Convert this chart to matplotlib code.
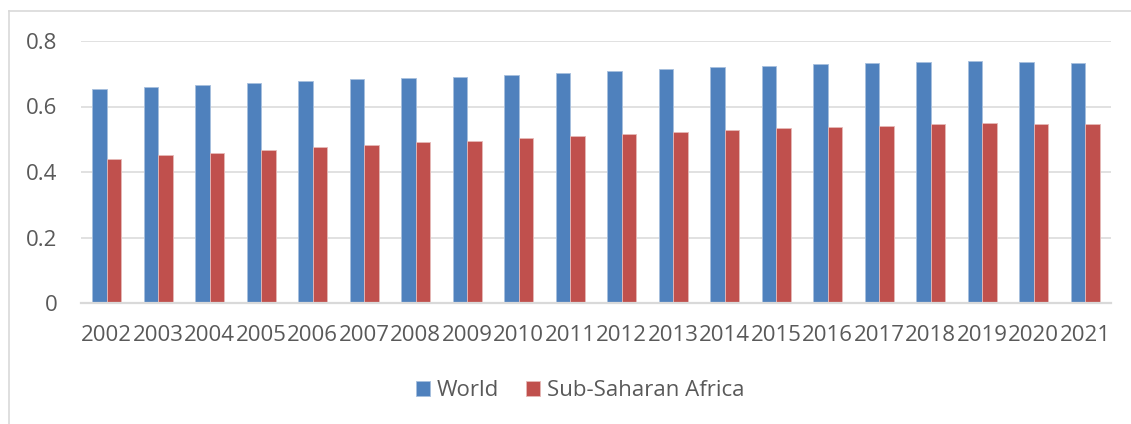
import numpy as np
import matplotlib
matplotlib.use("Agg")
import matplotlib.pyplot as plt
from matplotlib.lines import Line2D

years = [str(y) for y in range(2002, 2022)]
world = [0.654, 0.659, 0.665, 0.671, 0.678, 0.683, 0.687, 0.691, 0.696, 0.703,
         0.708, 0.713, 0.720, 0.724, 0.729, 0.733, 0.735, 0.738, 0.735, 0.732]
ssa = [0.441, 0.451, 0.459, 0.467, 0.476, 0.483, 0.491, 0.496, 0.503, 0.509,
       0.515, 0.522, 0.528, 0.534, 0.538, 0.541, 0.546, 0.551, 0.548, 0.546]
series_names = ["World", "Sub-Saharan Africa"]
yticks = [0, 0.2, 0.4, 0.6, 0.8]
ytick_labels = ["0", "0.2", "0.4", "0.6", "0.8"]

BLUE = "#4F81BD"
RED = "#C0504D"
TEXT = "#595959"
GRID = "#D9D9D9"

plt.rcParams["font.family"] = ["Open Sans", "DejaVu Sans"]
plt.rcParams["font.size"] = 16.0

fig = plt.figure(figsize=(11.31, 4.24), dpi=100)
ax = fig.add_axes([81 / 1131, 1 - 303 / 424, 1030 / 1131, 262 / 424])

x = np.arange(len(years))
w = 0.285
ax.bar(x - w / 2, world, w, color=BLUE, edgecolor="#A7BFDE", linewidth=0.6,
       label=series_names[0], zorder=3)
ax.bar(x + w / 2, ssa, w, color=RED, edgecolor="#E6B9B8", linewidth=0.6,
       label=series_names[1], zorder=3)

ax.set_xlim(-0.5, len(years) - 0.5)
ax.set_ylim(0, 0.8)
ax.set_xticks(x)
ax.set_xticklabels(years)
ax.set_yticks(yticks)
ax.set_yticklabels(ytick_labels)
ax.tick_params(axis="both", length=0, colors=TEXT)
ax.tick_params(axis="y", pad=17)
ax.tick_params(axis="x", pad=16)

ax.grid(axis="y", color=GRID, linewidth=1.1, zorder=0)
for side in ["top", "right", "left"]:
    ax.spines[side].set_visible(False)
ax.spines["bottom"].set_color(GRID)
ax.spines["bottom"].set_linewidth(1.6)
ax.spines["bottom"].set_zorder(4)

handles, labels = ax.get_legend_handles_labels()
fig.legend(handles, labels, loc="center", ncol=2,
           bbox_to_anchor=(580 / 1131, 1 - 391 / 424), frameon=False,
           handlelength=0.65, handleheight=0.65, handletextpad=0.3,
           columnspacing=1.2, labelcolor=TEXT)

# chart frame: only top and left edges show
fig.add_artist(Line2D([8.5 / 1131, 1], [1 - 10.5 / 424, 1 - 10.5 / 424],
                      color=GRID, linewidth=1.2, transform=fig.transFigure))
fig.add_artist(Line2D([8.5 / 1131, 8.5 / 1131], [0, 1 - 10.5 / 424],
                      color=GRID, linewidth=1.2, transform=fig.transFigure))

fig.savefig("out.png", dpi=100, facecolor="white")
